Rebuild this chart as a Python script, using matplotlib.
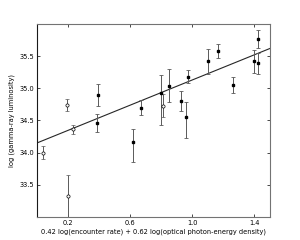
import numpy as np
import matplotlib
matplotlib.use('Agg')
import matplotlib.pyplot as plt

#filled points (black squares)
x_filled = [0.384, 0.39, 0.62, 0.672, 0.80, 0.852, 0.927, 0.961, 0.972, 1.10, 1.163, 1.264, 1.395, 1.425, 1.425]
y_filled = [34.46, 34.90, 34.16, 34.70, 34.93, 35.04, 34.80, 34.55, 35.18, 35.42, 35.58, 35.05, 35.42, 35.77, 35.39]
err_lo_filled = [0.14, 0.17, 0.30, 0.12, 0.50, 0.26, 0.16, 0.32, 0.10, 0.19, 0.11, 0.13, 0.18, 0.14, 0.16]
err_hi_filled = [0.14, 0.17, 0.20, 0.12, 0.28, 0.26, 0.16, 0.24, 0.10, 0.19, 0.11, 0.13, 0.18, 0.14, 0.16]

#open points (circles)
x_open = [0.04, 0.191, 0.198, 0.23, 0.813]
y_open = [34.0, 34.74, 33.32, 34.36, 34.73]
err_open = [0.10, 0.10, 0.33, 0.07, 0.18]

#fitted line
fit_x = [0.0, 1.5]
fit_y = [34.15, 35.62]

fig = plt.figure(figsize=(3, 2.4), dpi=100)
ax = fig.add_axes([0.123, 0.096, 0.777, 0.804])

ax.plot(fit_x, fit_y, color='0.15', lw=0.8)
ax.errorbar(x_filled, y_filled, yerr=[err_lo_filled, err_hi_filled], fmt='s', color='k',
            ms=1.9, elinewidth=0.7, capsize=1.5, capthick=0.6, ecolor='0.35')
ax.errorbar(x_open, y_open, yerr=err_open, fmt='o', mfc='w', mec='k', color='k',
            ms=2.3, mew=0.5, elinewidth=0.7, capsize=1.5, capthick=0.6, ecolor='0.35')

ax.set_xlim(0, 1.5)
ax.set_ylim(33, 36)
ax.set_xticks([0.2, 0.6, 1.0, 1.4])
ax.set_yticks([33.5, 34.0, 34.5, 35.0, 35.5])
ax.tick_params(direction='in', length=2, width=0.5, labelsize=4.8, top=True, right=True, pad=2)
for s in ax.spines.values():
    s.set_linewidth(0.8)
    s.set_color('0.45')
ax.spines['left'].set_color('0.1')

ax.set_xlabel('0.42 log(encounter rate) + 0.62 log(optical photon-energy density)', fontsize=4.8, labelpad=2)
ax.set_ylabel('log (gamma-ray luminosity)', fontsize=4.8, labelpad=3)

fig.savefig('out.png', dpi=100)
